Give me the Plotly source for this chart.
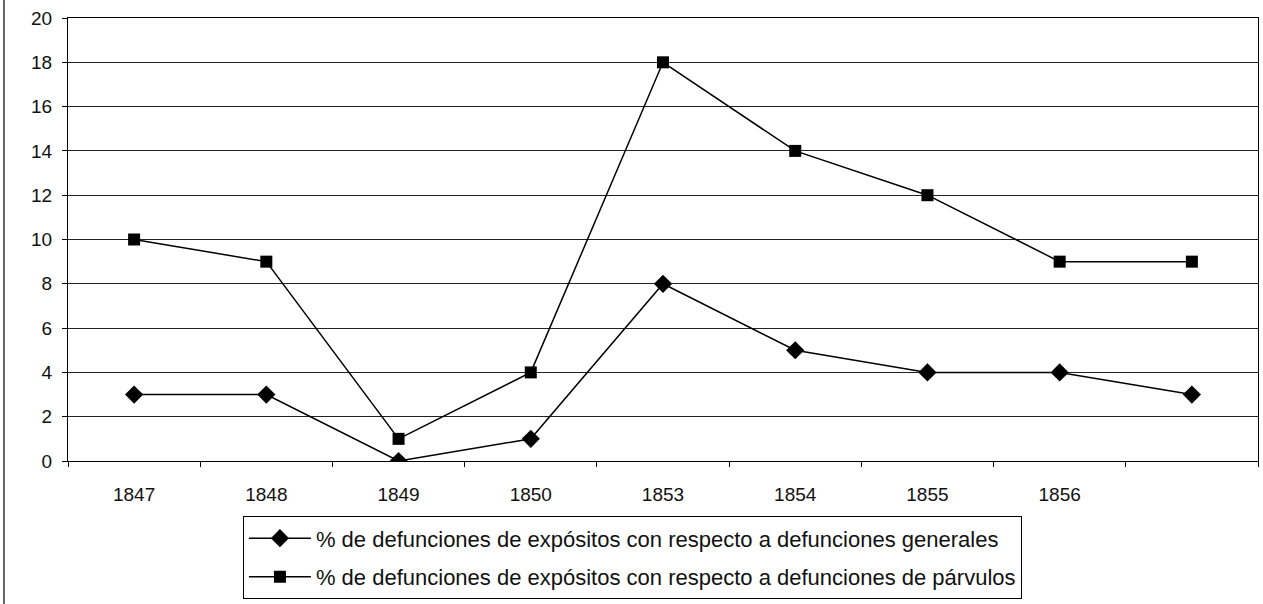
import plotly.graph_objects as go

years = ["1847", "1848", "1849", "1850", "1853", "1854", "1855", "1856", " "]
pct_generales = [3, 3, 0, 1, 8, 5, 4, 4, 3]
pct_parvulos = [10, 9, 1, 4, 18, 14, 12, 9, 9]
name_generales = "% de defunciones de expósitos con respecto a defunciones generales"
name_parvulos = "% de defunciones de expósitos con respecto a defunciones de párvulos"
y_ticks = [0, 2, 4, 6, 8, 10, 12, 14, 16, 18, 20]

FONT = "Liberation Sans, Arial, sans-serif"

fig = go.Figure()
fig.add_trace(go.Scatter(
    x=years, y=pct_generales, name=name_generales, mode="lines+markers",
    legendgroup="g1",
    line=dict(color="black", width=1.5),
    marker=dict(symbol="diamond", size=14, color="black"),
))
fig.add_trace(go.Scatter(
    x=years, y=pct_parvulos, name=name_parvulos, mode="lines+markers",
    legendgroup="g2",
    line=dict(color="black", width=1.5),
    marker=dict(symbol="square", size=12, color="black"),
))

fig.update_layout(
    width=1263, height=604,
    margin=dict(l=68, r=5, t=18, b=139),
    paper_bgcolor="white", plot_bgcolor="white",
    font=dict(family=FONT, size=19, color="#111"),
    showlegend=True,
    legend=dict(
        x=0.147, y=-0.125, xanchor="left", yanchor="top",
        bordercolor="black", borderwidth=1, bgcolor="white",
        font=dict(size=22, family=FONT, color="#111"),
        traceorder="grouped", tracegroupgap=7, itemwidth=62,
    ),
    xaxis=dict(
        type="category", tickson="boundaries", ticks="outside", ticklen=5,
        tickcolor="black", showline=True, linecolor="black", linewidth=1,
        mirror=True, showgrid=False, range=[-0.5, 8.5],
        tickfont=dict(size=19), ticklabelstandoff=16,
    ),
    yaxis=dict(
        range=[0, 20], tickvals=y_ticks, ticks="outside", ticklen=5,
        tickcolor="black", showline=True, linecolor="black", linewidth=1,
        mirror=True, showgrid=True, gridcolor="#222", gridwidth=1,
        zeroline=False, tickfont=dict(size=19), ticklabelstandoff=6,
    ),
    shapes=[dict(type="line", xref="paper", yref="paper",
                 x0=-0.0538, x1=-0.0538, y0=-0.34, y1=1.05,
                 line=dict(color="#333", width=1.5))],
)

fig.write_html("out.html", config={"displayModeBar": False},
               post_script="document.body.style.margin='0';")
